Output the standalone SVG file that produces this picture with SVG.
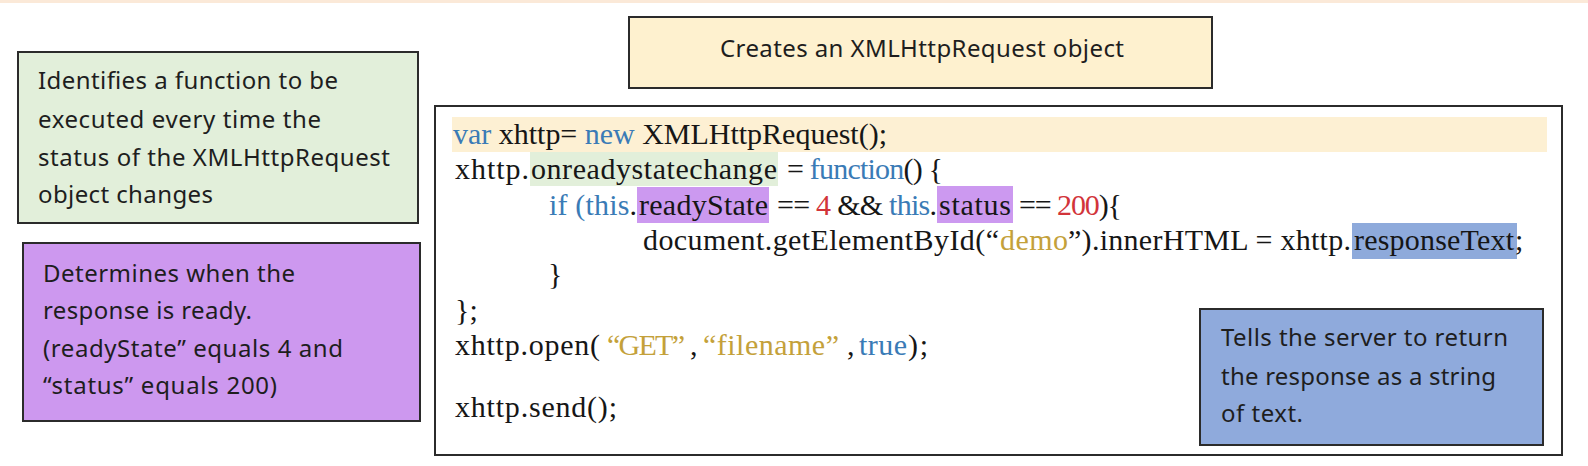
<svg xmlns="http://www.w3.org/2000/svg" width="1588" height="466" viewBox="0 0 1588 466">
<style>
.box{stroke:#2b2b2b;stroke-width:2}
.note{font-family:"Noto Sans","Open Sans","Liberation Sans",sans-serif;font-size:24px;fill:#1e1e1e}
.code{font-family:"Liberation Serif","DejaVu Serif",serif;font-size:30px;fill:#161616}
.kw{fill:#3a7bb6}
.num{fill:#d2343a}
.str{fill:#c4a13a}
</style>
<rect x="0" y="0" width="1588" height="466" fill="#ffffff"/>
<rect x="0" y="0" width="1588" height="3" fill="#fbe9d8"/>

<g id="note-onreadystatechange">
<rect class="box" x="18" y="52" width="400" height="171" fill="#e2efda"/>
<text class="note" x="38" y="89" textLength="300">Identifies a function to be</text>
<text class="note" x="38" y="128" textLength="283">executed every time the</text>
<text class="note" x="38" y="166" textLength="352">status of the XMLHttpRequest</text>
<text class="note" x="38" y="203" textLength="175">object changes</text>
</g>

<g id="note-readystate">
<rect class="box" x="23" y="243" width="397" height="178" fill="#cd98ef"/>
<text class="note" x="43" y="282" textLength="252">Determines when the</text>
<text class="note" x="43" y="319" textLength="209">response is ready.</text>
<text class="note" x="43" y="357" textLength="300">(readyState” equals 4 and</text>
<text class="note" x="43" y="394" textLength="234">“status” equals 200)</text>
</g>

<g id="note-create">
<rect class="box" x="629" y="17" width="583" height="71" fill="#fef1cf"/>
<text class="note" x="720" y="57" textLength="404">Creates an XMLHttpRequest object</text>
</g>

<g id="code-block">
<rect class="box" x="435" y="106" width="1127" height="349" fill="#ffffff"/>
<rect x="452" y="117" width="1095" height="35" fill="#fdf0d3"/>
<rect x="530" y="152" width="248" height="34" fill="#e2efda"/>
<rect x="637" y="187" width="132" height="36" fill="#cc99f0"/>
<rect x="937" y="186" width="76" height="37" fill="#cc99f0"/>
<rect x="1352" y="223" width="165" height="36" fill="#8eaadb"/>

<text class="code" x="453" y="144" textLength="434"><tspan class="kw">var</tspan> xhttp= <tspan class="kw">new</tspan> XMLHttpRequest();</text>

<text class="code" x="455" y="179" textLength="74">xhttp.</text>
<text class="code" x="531" y="179" textLength="246">onreadystatechange</text>
<text class="code" x="787" y="179" textLength="156">= <tspan class="kw">function</tspan>() {</text>

<text class="code" x="549" y="215" textLength="88"><tspan class="kw">if (this</tspan>.</text>
<text class="code" x="639" y="215" textLength="129">readyState</text>
<text class="code" x="777" y="215" textLength="160">== <tspan class="num">4</tspan> &amp;&amp; <tspan class="kw">this</tspan>.</text>
<text class="code" x="939" y="215" textLength="72">status</text>
<text class="code" x="1019" y="215" textLength="103">== <tspan class="num">200</tspan>){</text>

<text class="code" x="643" y="250" textLength="356">document.getElementById(“</text>
<text class="code str" x="1000" y="250" textLength="68">demo</text>
<text class="code" x="1068" y="250" textLength="283">”).innerHTML = xhttp.</text>
<text class="code" x="1354" y="250" textLength="160">responseText</text>
<text class="code" x="1515" y="250">;</text>

<text class="code" x="548" y="284">}</text>
<text class="code" x="455" y="320">};</text>

<text class="code" x="455" y="355" textLength="145">xhttp.open(</text>
<text class="code str" x="607" y="355" textLength="78">“GET”</text>
<text class="code" x="690" y="355">,</text>
<text class="code str" x="703" y="355" textLength="136">“filename”</text>
<text class="code" x="847" y="355">,</text>
<text class="code kw" x="859" y="355" textLength="48">true</text>
<text class="code" x="908" y="355" textLength="20">);</text>

<text class="code" x="455" y="417" textLength="162">xhttp.send();</text>
</g>

<g id="note-responsetext">
<rect class="box" x="1200" y="309" width="343" height="136" fill="#8faadc"/>
<text class="note" x="1221" y="346" textLength="287">Tells the server to return</text>
<text class="note" x="1221" y="385" textLength="275">the response as a string</text>
<text class="note" x="1221" y="422" textLength="82">of text.</text>
</g>

<g id="connectors"></g>
</svg>
